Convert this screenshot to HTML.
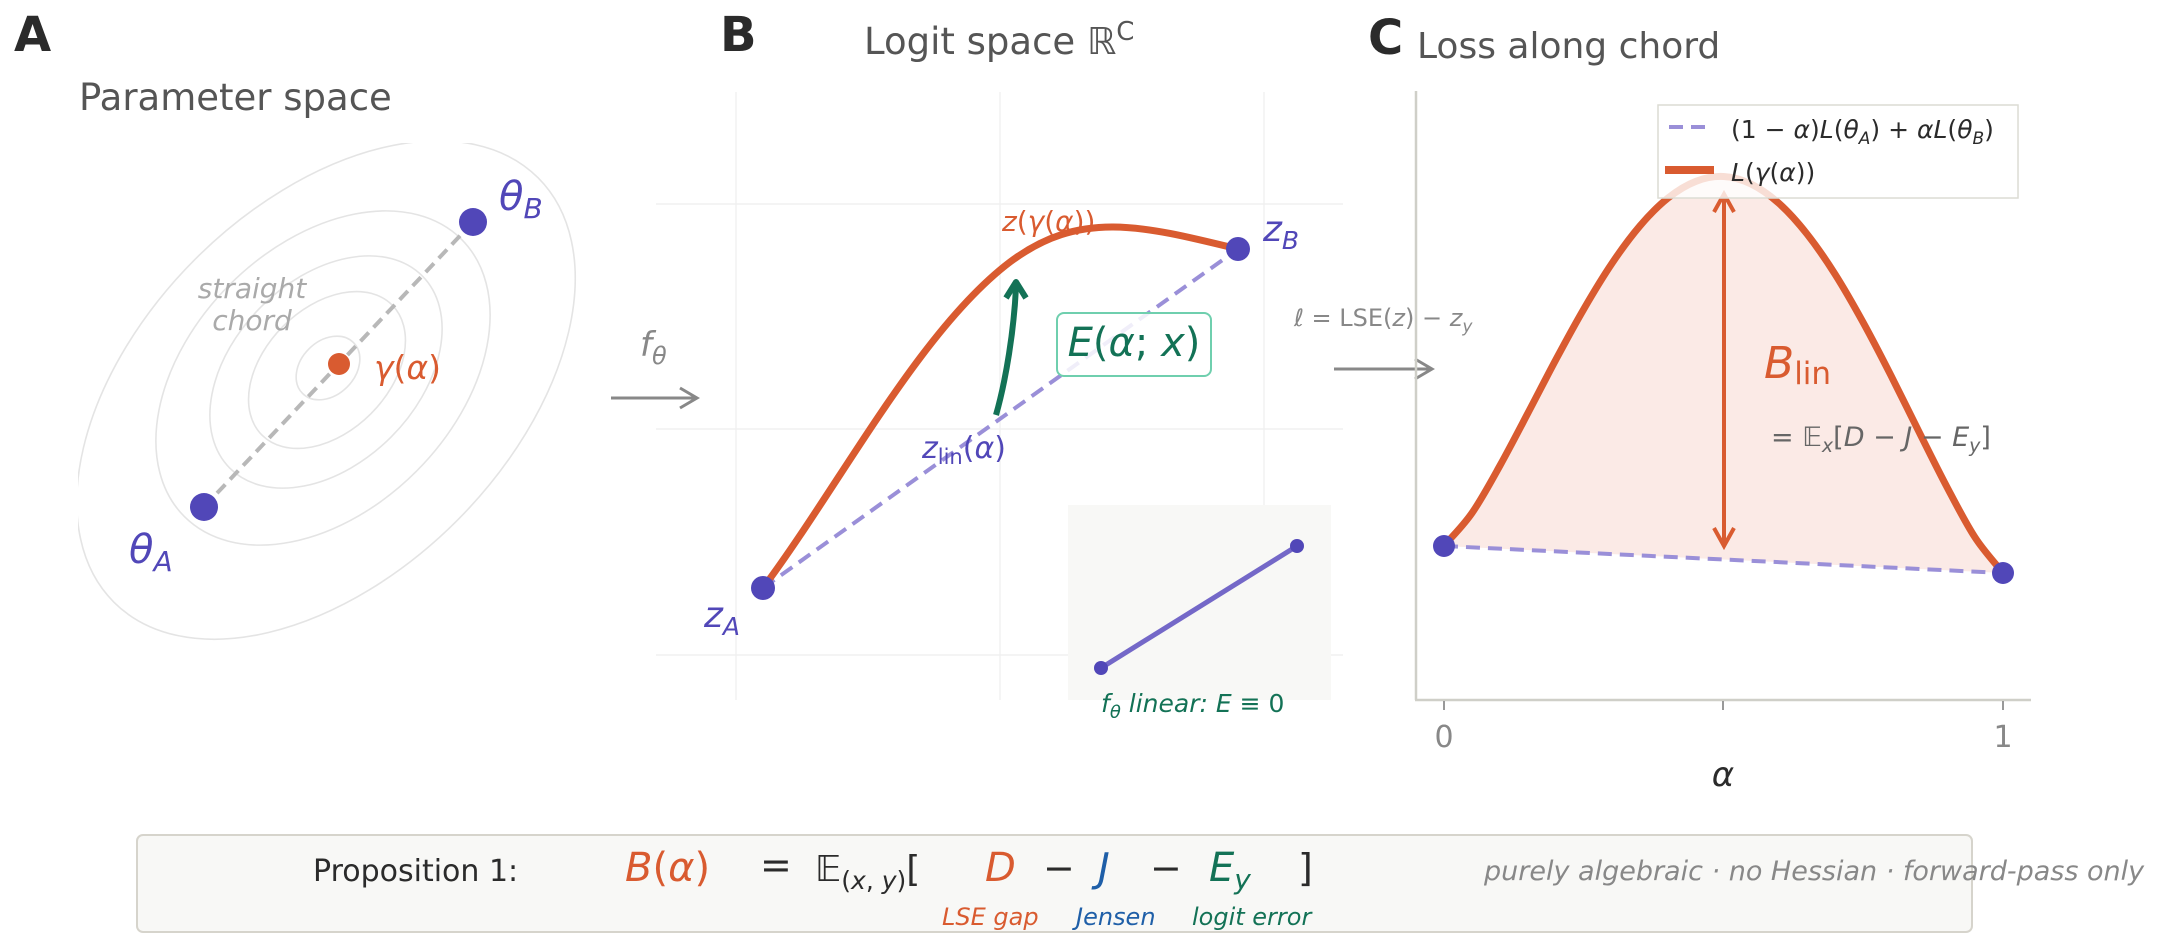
<!DOCTYPE html>
<html><head><meta charset="utf-8"><style>
html,body{margin:0;padding:0;background:#fff;}
svg{display:block;font-family:"DejaVu Sans","Liberation Sans",sans-serif;}
.it{font-style:italic;}
</style></head><body>
<svg width="2162" height="952" viewBox="0 0 2162 952" xmlns="http://www.w3.org/2000/svg">
<defs>
<clipPath id="cA"><rect x="78" y="143" width="600" height="600"/></clipPath>
</defs>
<!-- Panel A -->
<text x="14" y="51" font-size="48" font-weight="bold" fill="#2b2b2b">A</text>
<text x="79" y="110" font-size="37" fill="#555">Parameter space</text>
<g fill="none" stroke="#e4e4e4" stroke-width="1.6" clip-path="url(#cA)">
<ellipse cx="328" cy="368" rx="36" ry="27" transform="rotate(-45 328 368)"/>
<ellipse cx="327" cy="370" rx="92" ry="62" transform="rotate(-45 327 370)"/>
<ellipse cx="326" cy="372" rx="136" ry="92" transform="rotate(-45 326 372)"/>
<ellipse cx="323" cy="378" rx="196" ry="132" transform="rotate(-45 323 378)"/>
<ellipse cx="326" cy="390" rx="300" ry="185" transform="rotate(-45 326 390)"/>
</g>
<line x1="204" y1="507" x2="473" y2="222" stroke="#b8b8b8" stroke-width="4" stroke-dasharray="12,7"/>
<circle cx="473" cy="222" r="14" fill="#5147b8"/>
<circle cx="204" cy="507" r="14" fill="#5147b8"/>
<circle cx="339" cy="364" r="11" fill="#d95b30"/>
<text x="499" y="210" font-size="40" class="it" fill="#5147b8">θ<tspan font-size="28" dy="8">B</tspan></text>
<text x="129" y="563" font-size="40" class="it" fill="#5147b8">θ<tspan font-size="28" dy="8">A</tspan></text>
<text x="374" y="379" font-size="33" fill="#d95b30"><tspan class="it">γ</tspan>(<tspan class="it">α</tspan>)</text>
<text x="252" y="298" font-size="28" class="it" fill="#aaa" text-anchor="middle">straight</text>
<text x="252" y="330" font-size="28" class="it" fill="#aaa" text-anchor="middle">chord</text>
<!-- arrow f theta -->
<text x="640" y="356" font-size="34" class="it" fill="#888">f<tspan font-size="24" dy="8">θ</tspan></text>
<line x1="611" y1="398" x2="695" y2="398" stroke="#888" stroke-width="3"/>
<polyline points="680,388 697,398 680,408" fill="none" stroke="#888" stroke-width="3"/>
<!-- Panel B -->
<text x="720" y="51" font-size="48" font-weight="bold" fill="#2b2b2b">B</text>
<text x="864" y="54" font-size="37" fill="#555">Logit space ℝ<tspan font-size="26" dy="-14">C</tspan></text>
<g stroke="#eeeeee" stroke-width="1.2">
<line x1="736" y1="92" x2="736" y2="700"/><line x1="1000" y1="92" x2="1000" y2="700"/><line x1="1264" y1="92" x2="1264" y2="700"/>
<line x1="656" y1="204" x2="1343" y2="204"/><line x1="656" y1="429" x2="1343" y2="429"/><line x1="656" y1="655" x2="1343" y2="655"/>
</g>
<line x1="763" y1="588" x2="1238" y2="249" stroke="#9a8fd8" stroke-width="4" stroke-dasharray="14,8"/>
<path d="M763,588 C840,485 920,330 1010,262 C1080,210 1140,225 1238,249" fill="none" stroke="#d95b30" stroke-width="7"/>
<circle cx="763" cy="588" r="12" fill="#5147b8"/>
<circle cx="1238" cy="249" r="12" fill="#5147b8"/>
<path d="M996,415 C1006,380 1014,330 1016,287" fill="none" stroke="#137256" stroke-width="6"/>
<polyline points="1006,298 1016,282 1026,298" fill="none" stroke="#137256" stroke-width="6" stroke-linejoin="round"/>
<rect x="1057" y="313" width="154" height="63" rx="7" fill="#fff" fill-opacity="0.85" stroke="#6fcfae" stroke-width="2"/>
<text x="1134" y="356" font-size="40" fill="#137256" text-anchor="middle"><tspan class="it">E</tspan>(<tspan class="it">α</tspan>; <tspan class="it">x</tspan>)</text>
<text x="1002" y="231" font-size="28" fill="#d95b30"><tspan class="it">z</tspan>(<tspan class="it">γ</tspan>(<tspan class="it">α</tspan>))</text>
<text x="922" y="458" font-size="30" fill="#5147b8"><tspan class="it">z</tspan><tspan font-size="21" dy="6">lin</tspan><tspan dy="-6">(</tspan><tspan class="it">α</tspan>)</text>
<text x="704" y="627" font-size="36" class="it" fill="#5147b8">z<tspan font-size="25" dy="8">A</tspan></text>
<text x="1263" y="241" font-size="36" class="it" fill="#5147b8">z<tspan font-size="25" dy="8">B</tspan></text>
<rect x="1068" y="505" width="263" height="195" fill="#f8f8f6"/>
<line x1="1101" y1="668" x2="1297" y2="546" stroke="#7468c8" stroke-width="5"/>
<circle cx="1101" cy="668" r="7" fill="#5147b8"/><circle cx="1297" cy="546" r="7" fill="#5147b8"/>
<text x="1101" y="712" font-size="25" class="it" fill="#137256">f<tspan font-size="18" dy="6">θ</tspan><tspan dy="-6"> linear: E ≡ </tspan><tspan font-style="normal">0</tspan></text>
<!-- arrow to C -->
<text x="1294" y="326" font-size="24" fill="#888"><tspan class="it">ℓ</tspan> = LSE(<tspan class="it">z</tspan>) − <tspan class="it">z</tspan><tspan class="it" font-size="17" dy="6">y</tspan></text>
<line x1="1334" y1="369" x2="1430" y2="369" stroke="#888" stroke-width="3"/>
<polyline points="1415,359 1432,369 1415,379" fill="none" stroke="#888" stroke-width="3"/>
<!-- Panel C -->
<text x="1368" y="54" font-size="48" font-weight="bold" fill="#2b2b2b">C</text>
<text x="1417" y="58" font-size="36" fill="#555">Loss along chord</text>
<path fill="#fbeae6" d="M1444,546 C1453.3,535 1462.7,526.4 1472,513 C1481.3,499.6 1490.7,482.2 1500,465.5 C1509.3,448.8 1518.7,430.6 1528,412.9 C1537.3,395.2 1546.7,376.8 1556,359.4 C1565.3,342 1574.7,324.7 1584,308.7 C1593.3,292.7 1602.7,277.1 1612,263.3 C1621.3,249.5 1630.7,236.7 1640,225.8 C1649.3,214.9 1658.7,205.4 1668,198 C1677.3,190.6 1686.7,184.9 1696,181.3 C1705.3,177.7 1714.2,176.05 1723.5,176.5 C1732.8,176.95 1741.7,179.5 1751,184 C1760.3,188.5 1769.7,195.1 1779,203.4 C1788.3,211.7 1797.7,222.2 1807,234 C1816.3,245.8 1825.7,259.4 1835,274.1 C1844.3,288.8 1853.7,305.3 1863,322.2 C1872.3,339.1 1881.7,357.3 1891,375.6 C1900.3,393.9 1909.7,413.2 1919,431.8 C1928.3,450.4 1937.7,469.5 1947,487.1 C1956.3,504.7 1965.7,523.1 1975,537.4 C1984.3,551.7 1993.7,561.1 2003,573 L1444,546 Z"/>
<line x1="1444" y1="546" x2="2003" y2="573" stroke="#9a8fd8" stroke-width="4" stroke-dasharray="14,8"/>
<path fill="none" stroke="#d95b30" stroke-width="7" stroke-linejoin="round" d="M1444,546 C1453.3,535 1462.7,526.4 1472,513 C1481.3,499.6 1490.7,482.2 1500,465.5 C1509.3,448.8 1518.7,430.6 1528,412.9 C1537.3,395.2 1546.7,376.8 1556,359.4 C1565.3,342 1574.7,324.7 1584,308.7 C1593.3,292.7 1602.7,277.1 1612,263.3 C1621.3,249.5 1630.7,236.7 1640,225.8 C1649.3,214.9 1658.7,205.4 1668,198 C1677.3,190.6 1686.7,184.9 1696,181.3 C1705.3,177.7 1714.2,176.05 1723.5,176.5 C1732.8,176.95 1741.7,179.5 1751,184 C1760.3,188.5 1769.7,195.1 1779,203.4 C1788.3,211.7 1797.7,222.2 1807,234 C1816.3,245.8 1825.7,259.4 1835,274.1 C1844.3,288.8 1853.7,305.3 1863,322.2 C1872.3,339.1 1881.7,357.3 1891,375.6 C1900.3,393.9 1909.7,413.2 1919,431.8 C1928.3,450.4 1937.7,469.5 1947,487.1 C1956.3,504.7 1965.7,523.1 1975,537.4 C1984.3,551.7 1993.7,561.1 2003,573"/>
<line x1="1724" y1="196" x2="1724" y2="544" stroke="#d95b30" stroke-width="4"/>
<polyline points="1714,212 1724,194 1734,212" fill="none" stroke="#d95b30" stroke-width="4"/>
<polyline points="1714,528 1724,546 1734,528" fill="none" stroke="#d95b30" stroke-width="4"/>
<circle cx="1444" cy="546" r="11" fill="#5147b8"/><circle cx="2003" cy="573" r="11" fill="#5147b8"/>
<text x="1764" y="378" font-size="44" fill="#d95b30"><tspan class="it">B</tspan><tspan font-size="31" dy="6">lin</tspan></text>
<text x="1771" y="446" font-size="27" fill="#666">= 𝔼<tspan class="it" font-size="19" dy="6">x</tspan><tspan dy="-6">[</tspan><tspan class="it">D</tspan> − <tspan class="it">J</tspan> − <tspan class="it">E</tspan><tspan class="it" font-size="19" dy="6">y</tspan><tspan dy="-6">]</tspan></text>
<line x1="1416" y1="91" x2="1416" y2="700" stroke="#cfcfc8" stroke-width="2.5"/>
<line x1="1415" y1="700" x2="2031" y2="700" stroke="#cfcfc8" stroke-width="2.5"/>
<g stroke="#999" stroke-width="2"><line x1="1444" y1="701" x2="1444" y2="710"/><line x1="1723" y1="701" x2="1723" y2="710"/><line x1="2003" y1="701" x2="2003" y2="710"/></g>
<text x="1444" y="747" font-size="30" fill="#888" text-anchor="middle">0</text>
<text x="2003" y="747" font-size="30" fill="#888" text-anchor="middle">1</text>
<text x="1723" y="786" font-size="34" class="it" fill="#2b2b2b" text-anchor="middle">α</text>
<rect x="1658" y="105" width="360" height="93" fill="#fff" fill-opacity="0.8" stroke="#dcdcd4" stroke-width="1.5"/>
<line x1="1669" y1="127" x2="1707" y2="127" stroke="#9a8fd8" stroke-width="4" stroke-dasharray="14,8"/>
<line x1="1665" y1="170" x2="1714" y2="170" stroke="#d95b30" stroke-width="8"/>
<text x="1731" y="138" font-size="25" fill="#2b2b2b">(1 − <tspan class="it">α</tspan>)<tspan class="it">L</tspan>(<tspan class="it">θ</tspan><tspan class="it" font-size="17" dy="6">A</tspan><tspan dy="-6">) + </tspan><tspan class="it">αL</tspan>(<tspan class="it">θ</tspan><tspan class="it" font-size="17" dy="6">B</tspan><tspan dy="-6">)</tspan></text>
<text x="1731" y="181" font-size="25" fill="#2b2b2b"><tspan class="it">L</tspan>(<tspan class="it">γ</tspan>(<tspan class="it">α</tspan>))</text>
<!-- Proposition box -->
<rect x="137" y="835" width="1835" height="97" rx="6" fill="#f8f8f6" stroke="#d6d4cc" stroke-width="2"/>
<text x="313" y="881" font-size="30" fill="#2b2b2b">Proposition 1:</text>
<text x="625" y="881" font-size="40" fill="#d95b30"><tspan class="it">B</tspan>(<tspan class="it">α</tspan>)</text>
<text x="760" y="878" font-size="38" fill="#2b2b2b">=</text>
<text x="815" y="881" font-size="36" fill="#2b2b2b">𝔼<tspan font-size="25" dy="8">(<tspan class="it">x</tspan>, <tspan class="it">y</tspan>)</tspan><tspan dy="-8">[</tspan></text>
<text x="985" y="881" font-size="40" class="it" fill="#d95b30">D</text>
<text x="1043" y="881" font-size="38" fill="#2b2b2b">−</text>
<text x="1098" y="881" font-size="40" class="it" fill="#1f5fa8">J</text>
<text x="1150" y="881" font-size="38" fill="#2b2b2b">−</text>
<text x="1209" y="881" font-size="40" class="it" fill="#137256">E<tspan font-size="28" dy="8">y</tspan></text>
<text x="1298" y="881" font-size="38" fill="#2b2b2b">]</text>
<text x="942" y="925" font-size="24" class="it" fill="#d95b30">LSE gap</text>
<text x="1076" y="925" font-size="24" class="it" fill="#1f5fa8">Jensen</text>
<text x="1192" y="925" font-size="24" class="it" fill="#137256">logit error</text>
<text x="1484" y="880" font-size="27" class="it" fill="#888">purely algebraic · no Hessian · forward-pass only</text>
</svg>
</body></html>
